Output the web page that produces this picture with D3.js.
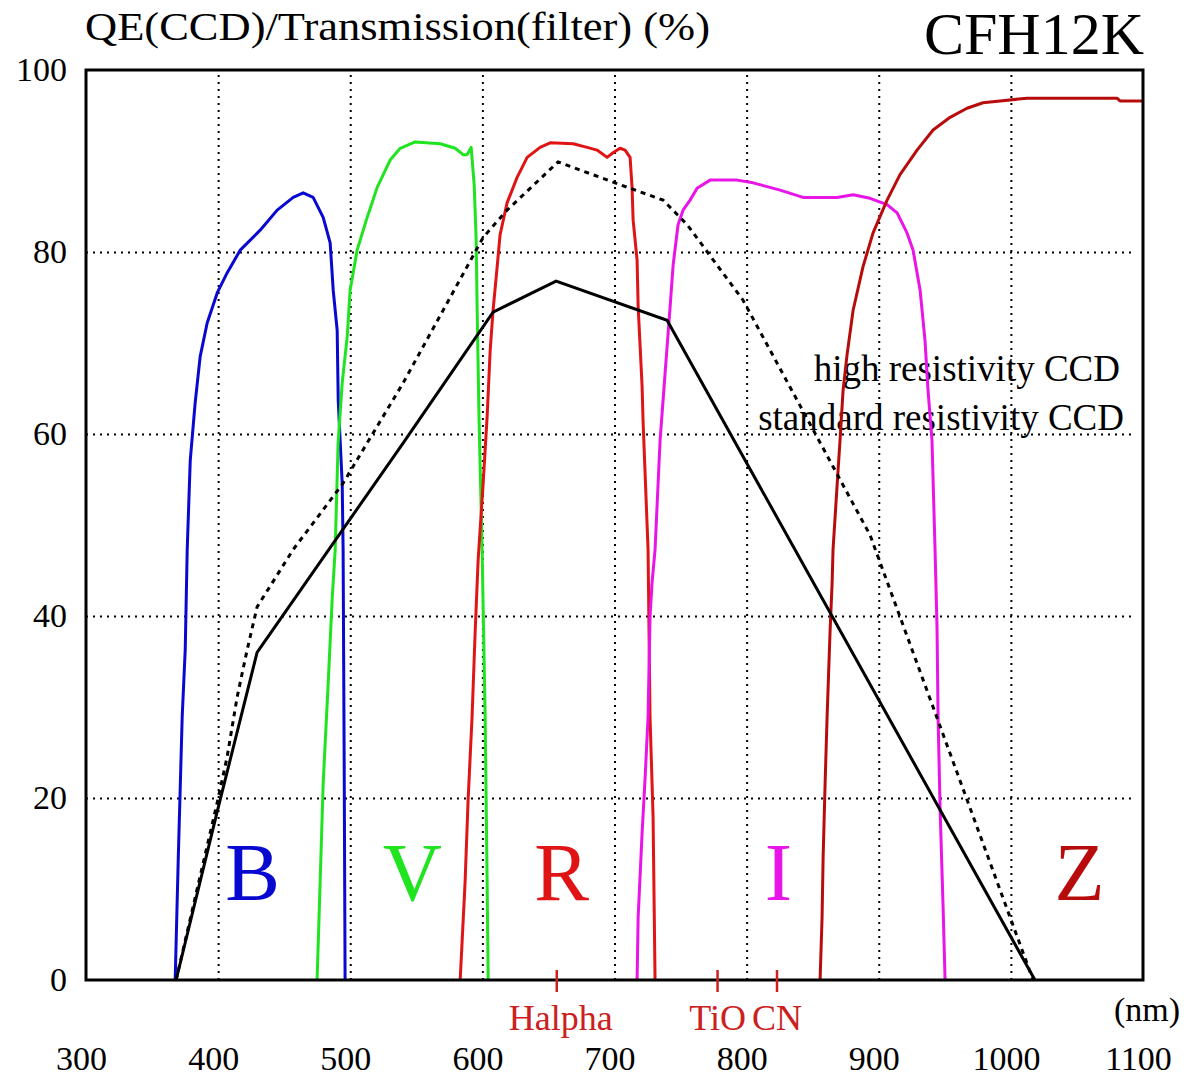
<!DOCTYPE html>
<html>
<head>
<meta charset="utf-8">
<script src="https://cdn.jsdelivr.net/npm/d3@7"></script>
<style>
body { margin: 0; background: #fff; }
text { font-family: "Liberation Serif", "Times New Roman", serif; }
</style>
</head>
<body>
<svg id="chart" width="1188" height="1081"></svg>
<script>
// tick values
var wavelengthTicks = [300, 400, 500, 600, 700, 800, 900, 1000, 1100];
var percentTicks = [0, 20, 40, 60, 80, 100];

// filter transmission curves, [nm, %]
var filterB = [[367.5,0],[369.8,13.2],[372.8,28.9],[375.1,36.3],[376.6,47.3],[378.9,57.1],[382.6,63.4],[386.4,68.5],[391.7,72.2],[399.3,75.5],[406.8,77.7],[416.7,80.2],[431.8,82.4],[444.7,84.6],[456.8,86.0],[464.4,86.5],[471.9,86.0],[479.5,83.8],[484.8,81.0],[487.1,75.8],[490.1,71.4],[490.9,63.7],[493.9,54.6],[494.6,47.3],[495.4,24.2],[496.1,0]];
var filterV = [[474.9,0],[477.2,10.7],[479.5,21.6],[483.3,32.6],[486.3,41.8],[488.6,47.3],[490.8,59.0],[493.9,65.6],[497.7,70.7],[499.9,75.8],[505.2,80.2],[512.8,83.8],[520.4,87.1],[530.2,90.1],[537.8,91.4],[549.1,92.1],[568.1,91.9],[579.4,91.4],[585.4,90.7],[588.5,90.7],[591.5,91.5],[593.8,87.4],[595.3,81.3],[596.0,74.0],[597.5,61.5],[599.8,47.3],[602.1,28.9],[603.6,10.7],[604.4,0]];
var filterR = [[583.2,0],[586.9,10.7],[589.2,19.8],[592.2,28.9],[594.5,38.1],[596.8,46.2],[598.3,49.5],[600.6,54.6],[603.6,61.9],[605.9,69.2],[608.1,73.6],[611.2,78.4],[613.4,81.9],[618.7,85.4],[626.3,88.2],[633.9,90.4],[643.7,91.5],[651.3,92.0],[668.7,91.9],[679.3,91.5],[686.8,91.2],[694.4,90.4],[698.9,90.9],[704.2,91.4],[708.0,91.2],[711.8,90.4],[713.3,87.1],[714.1,83.5],[717.1,79.1],[717.9,74.0],[720.9,65.2],[721.6,61.5],[725.4,47.3],[726.9,28.9],[729.2,17.9],[730.7,0]];
var filterI = [[717.1,0],[717.9,6.9],[720.9,16.2],[723.2,22.3],[725.4,28.9],[726.9,39.9],[728.4,43.6],[730.7,47.3],[734.5,59.3],[738.3,66.7],[742.1,74.0],[744.4,78.6],[748.1,83.0],[751.9,84.6],[757.2,85.7],[762.5,87.0],[772.3,87.9],[792.8,87.9],[804.9,87.6],[825.3,86.8],[842.7,86.0],[868.4,86.0],[880.6,86.3],[893.4,85.9],[906.3,85.2],[913.9,84.3],[921.4,82.1],[926.0,80.2],[931.3,75.8],[935.0,70.3],[937.3,64.8],[940.3,59.3],[942.6,47.3],[944.1,38.8],[944.9,28.9],[946.4,19.0],[948.7,8.0],[950.2,0]];
var filterZ = [[855.6,0],[857.1,6.9],[857.9,13.5],[859.4,21.6],[860.9,28.9],[863.1,38.1],[864.7,43.6],[865.4,47.3],[869.2,56.0],[870.7,59.3],[873.0,64.8],[876.0,68.7],[880.6,73.6],[888.1,78.4],[895.7,82.1],[906.3,85.7],[916.1,88.5],[929.0,91.2],[941.1,93.4],[954.0,94.8],[966.8,95.8],[978.9,96.4],[991.8,96.6],[1012.2,96.9],[1080.3,96.9],[1082.6,96.6],[1100,96.6]];

// CCD quantum efficiency, [nm, %]
var qeStandard = [[368.2,0],[399.3,18.5],[429.5,36.0],[540.0,59.0],[608.1,73.4],[655.8,76.8],[739.8,72.5],[1018.2,0]];
var qeHigh = [[368.2,0],[399.3,19.5],[406.8,24.5],[414.4,31.1],[422.0,36.3],[429.5,41.0],[456.8,47.3],[494.6,54.6],[540.0,65.6],[600.6,81.6],[618.7,84.6],[657.3,89.9],[704.2,87.4],[736.8,85.7],[755.0,83.0],[797.3,74.7],[893.4,48.9],[1016.8,0]];

// filter names and where their letters sit
var filterNames = ["B", "V", "R", "I", "Z"];
var filterLabelNm = [426, 547, 660, 824, 1052];
var filterColors = ["#0808d0", "#1fe41f", "#e01414", "#e814e8", "#b80c0c"];
var filterData = [filterB, filterV, filterR, filterI, filterZ];

// spectral lines marked under the axis
var lineNames = ["Halpha", "TiO", "CN"];
var lineNm = [656.3, 778, 823];

(function(){
	var svg = d3.select("#chart");
	var plotLeft = 86, plotRight = 1143, plotTop = 70, plotBottom = 980;

	var x = d3.scaleLinear().domain([300, 1100]).range([plotLeft, plotRight]);
	var y = d3.scaleLinear().domain([0, 100]).range([plotBottom, plotTop]);

	function dotted(sel){
		sel.attr("stroke", "#000")
			.attr("stroke-width", 2)
			.attr("stroke-dasharray", "2,5");
	}

	// dotted grid
	svg.append("g")
		.attr("class", "xgrid")
		.attr("transform", "translate(0," + plotBottom + ")")
		.call(d3.axisBottom(x).tickValues(wavelengthTicks.slice(1, -1))
			.tickSize(-(plotBottom - plotTop)).tickFormat(""))
		.call(function(g){ g.select(".domain").remove(); })
		.selectAll("line").call(dotted);

	svg.append("g")
		.attr("class", "ygrid")
		.attr("transform", "translate(" + plotLeft + ",0)")
		.call(d3.axisLeft(y).tickValues(percentTicks.slice(1, -1))
			.tickSize(-(plotRight - plotLeft - 8)).tickFormat(""))
		.call(function(g){ g.select(".domain").remove(); })
		.selectAll("line").call(dotted);

	// legend text sits under the curves
	svg.append("text")
		.attr("x", 1120).attr("y", 381)
		.attr("text-anchor", "end")
		.attr("font-size", "37px")
		.text("high resistivity CCD");

	svg.append("text")
		.attr("x", 1124).attr("y", 430)
		.attr("text-anchor", "end")
		.attr("font-size", "37px")
		.text("standard resistivity CCD");

	var line = d3.line()
		.x(function(d){ return x(d[0]); })
		.y(function(d){ return y(d[1]); });

	svg.append("g")
		.attr("class", "filters")
		.selectAll("path")
		.data(filterData)
		.enter()
		.append("path")
			.attr("d", line)
			.attr("fill", "none")
			.attr("stroke", function(d, i){ return filterColors[i]; })
			.attr("stroke-width", 3)
			.attr("stroke-linejoin", "round");

	svg.append("path")
		.attr("d", line(qeHigh))
		.attr("fill", "none")
		.attr("stroke", "#000")
		.attr("stroke-width", 3)
		.attr("stroke-dasharray", "5,5");

	svg.append("path")
		.attr("d", line(qeStandard))
		.attr("fill", "none")
		.attr("stroke", "#000")
		.attr("stroke-width", 3);

	// frame
	svg.append("rect")
		.attr("x", plotLeft).attr("y", plotTop)
		.attr("width", plotRight - plotLeft).attr("height", plotBottom - plotTop)
		.attr("fill", "none")
		.attr("stroke", "#000")
		.attr("stroke-width", 3);

	// tick labels
	var xAxis = svg.append("g")
		.attr("transform", "translate(0," + plotBottom + ")")
		.call(d3.axisBottom(x).tickValues(wavelengthTicks)
			.tickFormat(d3.format("d")).tickSize(0).tickPadding(66));
	xAxis.select(".domain").remove();
	xAxis.selectAll("text")
		.attr("dx", -5)
		.attr("font-size", "34px")
		.attr("font-family", "'Liberation Serif', serif")
		.attr("fill", "#000");

	var yAxis = svg.append("g")
		.attr("transform", "translate(" + plotLeft + ",0)")
		.call(d3.axisLeft(y).tickValues(percentTicks).tickSize(0).tickPadding(19));
	yAxis.select(".domain").remove();
	yAxis.selectAll("text")
		.attr("dy", "0.30em")
		.attr("font-size", "34px")
		.attr("font-family", "'Liberation Serif', serif")
		.attr("fill", "#000");

	// filter letters
	svg.selectAll(".filterName")
		.data(filterNames)
		.enter()
		.append("text")
			.attr("class", "filterName")
			.attr("x", function(d, i){ return x(filterLabelNm[i]); })
			.attr("y", 900)
			.attr("text-anchor", "middle")
			.attr("font-size", "82px")
			.attr("fill", function(d, i){ return filterColors[i]; })
			.text(function(d){ return d; });

	// spectral line marks
	svg.selectAll(".lineTick")
		.data(lineNm)
		.enter()
		.append("line")
			.attr("class", "lineTick")
			.attr("x1", function(d){ return x(d); })
			.attr("x2", function(d){ return x(d); })
			.attr("y1", plotBottom - 10).attr("y2", plotBottom + 12)
			.attr("stroke", "#cc2020")
			.attr("stroke-width", 2.5);

	svg.selectAll(".lineName")
		.data(lineNames)
		.enter()
		.append("text")
			.attr("class", "lineName")
			.attr("x", function(d, i){ return x(lineNm[i]) + (i == 0 ? 4 : 0); })
			.attr("y", 1030)
			.attr("text-anchor", "middle")
			.attr("font-size", "36px")
			.attr("fill", "#cc2020")
			.text(function(d){ return d; });

	svg.append("text")
		.attr("x", 1180).attr("y", 1021)
		.attr("text-anchor", "end")
		.attr("font-size", "34px")
		.text("(nm)");

	// titles
	svg.append("text")
		.attr("x", 85).attr("y", 40)
		.attr("font-size", "40px")
		.attr("textLength", 625)
		.attr("lengthAdjust", "spacingAndGlyphs")
		.text("QE(CCD)/Transmission(filter) (%)");

	svg.append("text")
		.attr("x", 1144).attr("y", 54)
		.attr("text-anchor", "end")
		.attr("font-size", "60px")
		.text("CFH12K");
})();
</script>
</body>
</html>
